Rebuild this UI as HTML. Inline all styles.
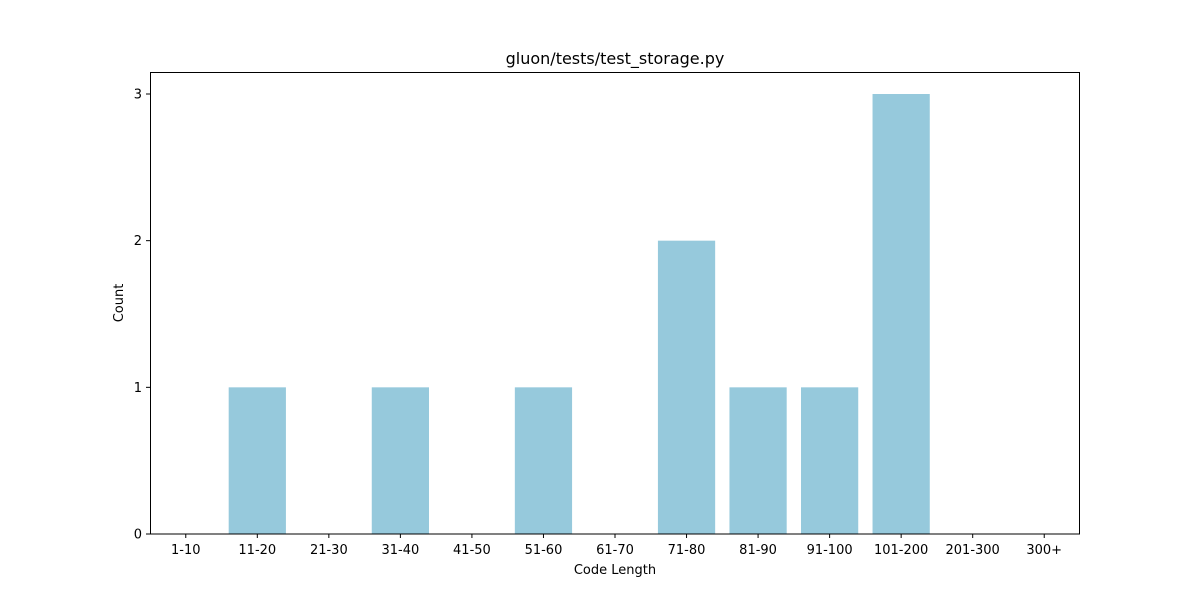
<!DOCTYPE html>
<html><head><meta charset="utf-8"><style>
body{margin:0;background:#fff;}
svg text{font-family:"DejaVu Sans","Liberation Sans",sans-serif;fill:#000;}
</style></head><body>
<svg id="chart" width="1200" height="600" xmlns="http://www.w3.org/2000/svg">
<rect width="1200" height="600" fill="#fff"/>
<text x="615" y="64" font-size="16" text-anchor="middle">gluon/tests/test_storage.py</text>
<g id="bars"></g>
<g id="xticks"></g>
<g id="yticks"></g>
<rect x="150.5" y="72.5" width="929" height="461.5" fill="none" stroke="#000" stroke-width="1"/>
<text x="615" y="574" font-size="13" text-anchor="middle">Code Length</text>
<text transform="translate(123,303) rotate(-90)" font-size="13" text-anchor="middle">Count</text>
</svg>
<script>
const categories=["1-10","11-20","21-30","31-40","41-50","51-60","61-70","71-80","81-90","91-100","101-200","201-300","300+"];
const counts=[0,1,0,1,0,1,0,2,1,1,3,0,0];
const yTicks=[0,1,2,3];
const L=150,R=1080,T=72,B=534,yMax=3.15;
const NS="http://www.w3.org/2000/svg";
const step=(R-L)/categories.length;
const xc=i=>L+(i+0.5)*step;
const y=v=>B-(v/yMax)*(B-T);
const bars=document.getElementById('bars'),xt=document.getElementById('xticks'),yt=document.getElementById('yticks');
categories.forEach((c,i)=>{
  const r=document.createElementNS(NS,'rect');
  
  
  const w=step*0.8;
  r.setAttribute('x',xc(i)-w/2);r.setAttribute('width',w);
  r.setAttribute('y',y(counts[i]));r.setAttribute('height',B-y(counts[i]));
  r.setAttribute('fill','#96c9dc');
  bars.appendChild(r);
  const tk=document.createElementNS(NS,'line');
  
  
  tk.setAttribute('x1',xc(i));tk.setAttribute('x2',xc(i));tk.setAttribute('y1',B);tk.setAttribute('y2',B+4);tk.setAttribute('stroke','#000');
  xt.appendChild(tk);
  const t=document.createElementNS(NS,'text');
  
  
  t.setAttribute('x',xc(i));t.setAttribute('y',B+20);t.setAttribute('font-size','13');t.setAttribute('text-anchor','middle');
  t.textContent=c;xt.appendChild(t);
});
yTicks.forEach(v=>{
  const tk=document.createElementNS(NS,'line');
  
  
  tk.setAttribute('x1',L-4);tk.setAttribute('x2',L);tk.setAttribute('y1',y(v));tk.setAttribute('y2',y(v));tk.setAttribute('stroke','#000');
  yt.appendChild(tk);
  const t=document.createElementNS(NS,'text');
  
  
  t.setAttribute('x',L-8);t.setAttribute('y',y(v)+4.5);t.setAttribute('font-size','13');t.setAttribute('text-anchor','end');
  t.textContent=v;yt.appendChild(t);
});
</script>
</body></html>
